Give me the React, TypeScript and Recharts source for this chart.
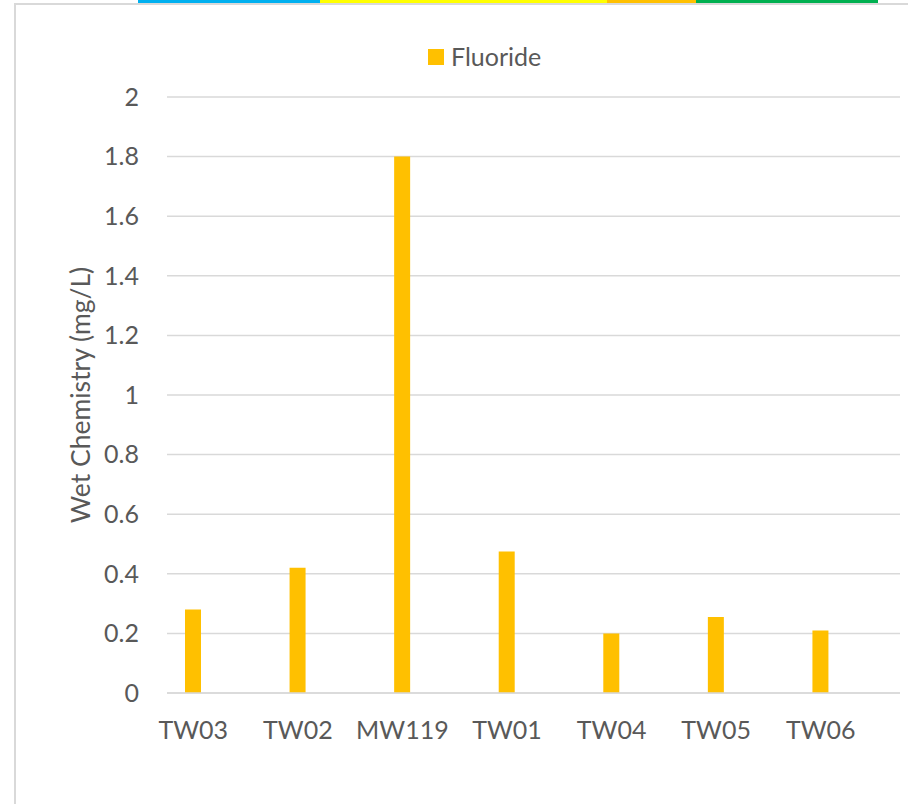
import { Bar, BarChart, CartesianGrid, Legend, XAxis, YAxis } from "recharts";

const CATEGORIES = ["TW03", "TW02", "MW119", "TW01", "TW04", "TW05", "TW06"];
const FLUORIDE = [0.28, 0.42, 1.8, 0.475, 0.2, 0.255, 0.21];
const Y_TICKS = [0, 0.2, 0.4, 0.6, 0.8, 1, 1.2, 1.4, 1.6, 1.8, 2];
const SERIES_NAME = "Fluoride";

// header strip colours (Excel theme accents)
const STRIP = [
  { color: "#00b0f0", from: 138, to: 320 },
  { color: "#ffff00", from: 320, to: 607 },
  { color: "#ffc000", from: 607, to: 696 },
  { color: "#00b050", from: 696, to: 878 },
];

const rows = CATEGORIES.map((name, i) => ({ name, Fluoride: FLUORIDE[i] }));

const FONT = "Lato, 'Open Sans', sans-serif";
const TEXT = "#595959";
const GRID = "#d9d9d9";
const BAR = "#ffc000";

function LegendBox({ payload }: any) {
  return (
    <div style={{ display: "flex", alignItems: "center", fontFamily: FONT }}>
      {(payload || []).map((p: any) => (
        <div key={p.value} style={{ display: "flex", alignItems: "center" }}>
          <span style={{ width: 16, height: 16, background: p.color, marginRight: 7, display: "inline-block" }} />
          <span style={{ fontSize: 25, color: TEXT, lineHeight: "25px" }}>{p.value}</span>
        </div>
      ))}
    </div>
  );
}

export default function App() {
  return (
    <div style={{ position: "absolute", left: 0, top: 0, width: 908, height: 804, background: "#fff", overflow: "hidden" }}>
      {STRIP.map((s) => (
        <div key={s.color} style={{ position: "absolute", left: s.from, width: s.to - s.from, top: 0, height: 3, background: s.color }} />
      ))}
      <div style={{ position: "absolute", left: 14, top: 3, right: 0, height: 2, background: GRID }} />
      <div style={{ position: "absolute", left: 14, top: 3, bottom: 0, width: 2, background: GRID }} />
      <div style={{ position: "absolute", left: 0, top: 0 }}>
        <BarChart width={908} height={804} data={rows} margin={{ top: 97, right: 8, bottom: 60, left: 40 }}>
          <CartesianGrid stroke={GRID} strokeWidth={1.5} vertical={false} />
          <XAxis
            dataKey="name"
            padding={{ left: -26, right: 27 }}
            axisLine={{ stroke: GRID, strokeWidth: 1.5 }}
            tickLine={false}
            tickSize={0}
            tickMargin={28}
            height={51}
            interval={0}
            tick={{ fill: TEXT, fontSize: 25, fontFamily: FONT }}
          />
          <YAxis
            width={127}
            domain={[0, 2]}
            ticks={Y_TICKS}
            axisLine={false}
            tickLine={false}
            tickSize={0}
            tickMargin={28}
            tick={{ fill: TEXT, fontSize: 25, fontFamily: FONT }}
            label={{
              value: "Wet Chemistry (mg/L)",
              angle: -90,
              position: "center",
              dx: -23,
              fill: TEXT,
              fontSize: 26.5,
              fontFamily: FONT,
            }}
          />
          <Legend
            verticalAlign="middle"
            align="center"
            wrapperStyle={{ top: 44, left: 428, width: "auto" }}
            content={<LegendBox />}
          />
          <Bar dataKey="Fluoride" name={SERIES_NAME} fill={BAR} barSize={16} isAnimationActive={false} />
        </BarChart>
      </div>
    </div>
  );
}
